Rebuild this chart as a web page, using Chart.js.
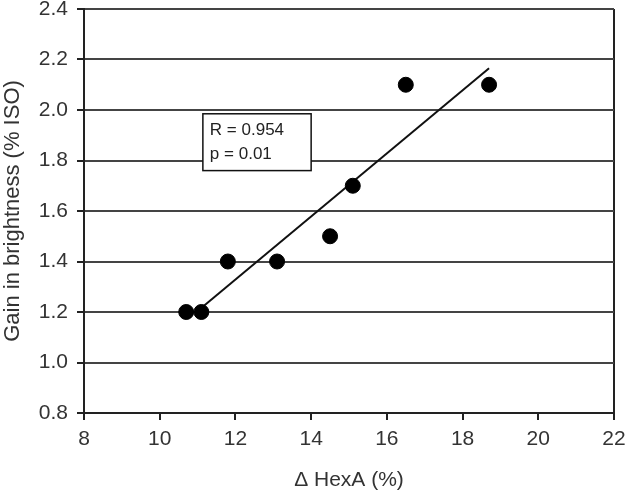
<!DOCTYPE html>
<html>
<head>
<meta charset="utf-8">
<script src="https://cdn.jsdelivr.net/npm/chart.js@4"></script>
<style>
  html, body { margin: 0; padding: 0; background: #fff; }
  #wrap { width: 634px; height: 491px; }
</style>
</head>
<body>
<div id="wrap"><canvas id="chart" width="634" height="491"></canvas></div>
<script>
// data
const hexA = [10.7, 11.1, 11.8, 13.1, 14.5, 15.1, 16.5, 18.7];
const gain = [1.2, 1.2, 1.4, 1.4, 1.5, 1.7, 2.1, 2.1];
const fitX = [11.05, 18.7];
const fitY = [1.21, 2.165];
const statLines = ['R = 0.954', 'p = 0.01'];
const statBox = { x0: 11.14, x1: 14.0, y0: 1.985, y1: 1.76 };

const xTicks = [8, 10, 12, 14, 16, 18, 20, 22];
const FONT = '"Liberation Sans", Arial, sans-serif';

// white box with the stats, placed through the scales
const statPlugin = {
  id: 'statBox',
  afterDatasetsDraw(chart) {
    const { ctx, scales } = chart;
    const l = scales.x.getPixelForValue(statBox.x0);
    const r = scales.x.getPixelForValue(statBox.x1);
    const t = scales.y.getPixelForValue(statBox.y0);
    const b = scales.y.getPixelForValue(statBox.y1);
    ctx.save();
    ctx.fillStyle = '#fff';
    ctx.fillRect(l, t, r - l, b - t);
    ctx.strokeStyle = '#111';
    ctx.lineWidth = 1.5;
    ctx.strokeRect(l, t, r - l, b - t);
    ctx.fillStyle = '#222';
    ctx.font = '17px ' + FONT;
    ctx.textBaseline = 'middle';
    const mid = (t + b) / 2;
    statLines.forEach((s, i) => ctx.fillText(s, l + 7, mid + (i - 0.5) * 24));
    ctx.restore();
  }
};

new Chart(document.getElementById('chart'), {
  type: 'scatter',
  data: {
    datasets: [
      {
        label: 'fit',
        type: 'line',
        data: fitX.map((x, i) => ({ x: x, y: fitY[i] })),
        borderColor: '#111',
        borderWidth: 2,
        pointRadius: 0,
        fill: false,
        order: 2
      },
      {
        label: 'data',
        data: hexA.map((x, i) => ({ x: x, y: gain[i] })),
        backgroundColor: '#000',
        borderColor: '#000',
        pointRadius: 7.5,
        order: 1
      }
    ]
  },
  options: {
    responsive: false,
    animation: false,
    layout: { padding: { top: 9, right: 20, left: 0, bottom: 0 } },
    plugins: {
      legend: { display: false },
      tooltip: { enabled: false }
    },
    scales: {
      x: {
        type: 'linear',
        min: 8,
        max: 22,
        afterBuildTicks: (axis) => { axis.ticks = xTicks.map(v => ({ value: v })); },
        afterFit: (axis) => { axis.height = 78; axis.paddingLeft = 0; axis.paddingRight = 0; },
        grid: {
          color: (c) => c.tick && c.tick.value === 22 ? '#222' : 'rgba(0,0,0,0)',
          tickColor: '#222',
          lineWidth: 2,
          tickLength: 7
        },
        border: { color: '#222', width: 2 },
        ticks: {
          color: '#333',
          font: { family: FONT, size: 21, lineHeight: 0.9 },
          padding: 10
        },
        title: {
          display: true,
          text: '\u0394 HexA (%)',
          color: '#333',
          font: { family: FONT, size: 21, lineHeight: 1.0 },
          padding: { top: 21, bottom: 0 }
        }
      },
      y: {
        min: 0.8,
        max: 2.4,
        afterFit: (axis) => { axis.width = 84; axis.paddingTop = 0; axis.paddingBottom = 0; },
        ticks: {
          stepSize: 0.2,
          color: '#333',
          font: { family: FONT, size: 21, lineHeight: 0.9 },
          padding: 9,
          callback: (v) => Number(v).toFixed(1)
        },
        grid: {
          color: '#444',
          tickColor: '#222',
          lineWidth: 2,
          tickLength: 7
        },
        border: { color: '#222', width: 2 },
        title: {
          display: true,
          text: 'Gain in brightness (% ISO)',
          color: '#333',
          font: { family: FONT, size: 22, lineHeight: 1.2 },
          padding: { top: 0, bottom: 12 }
        }
      }
    }
  },
  plugins: [statPlugin]
});
</script>
</body>
</html>
